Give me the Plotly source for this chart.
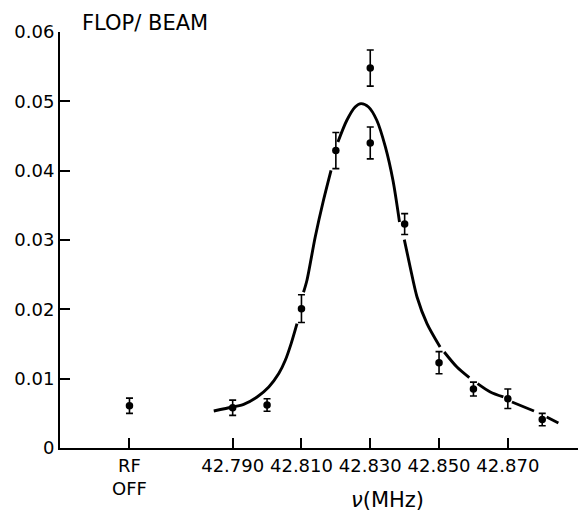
import plotly.graph_objects as go

# ---- data ----
tick_vals = [42.760, 42.790, 42.810, 42.830, 42.850, 42.870]
tick_text = ["RF<br>OFF", "42.790", "42.810", "42.830", "42.850", "42.870"]
y_tick_vals = [0, 0.01, 0.02, 0.03, 0.04, 0.05, 0.06]
y_tick_text = ["0", "0.01", "0.02", "0.03", "0.04", "0.05", "0.06"]

freq = [42.760, 42.790, 42.800, 42.810, 42.820, 42.830, 42.830, 42.840, 42.850, 42.860, 42.870, 42.880]
flop = [0.0061, 0.0058, 0.0062, 0.0201, 0.0429, 0.0548, 0.0440, 0.0323, 0.0123, 0.0085, 0.0071, 0.0041]
flop_err = [0.0011, 0.0011, 0.0009, 0.0020, 0.0026, 0.0026, 0.0023, 0.0015, 0.0016, 0.0010, 0.0014, 0.0009]

fit_freq = [42.7845, 42.7900, 42.7932, 42.7971, 42.8005, 42.8034, 42.8053, 42.8070, 42.8087, None,
            42.8106, 42.8116, 42.8140, 42.8164, 42.8186, None,
            42.8206, 42.8232, 42.8256, 42.8273, 42.8295, 42.8319, 42.8344, 42.8366, 42.8385, None,
            42.8399, 42.8416, 42.8436, 42.8465, 42.8503, None,
            42.8515, 42.8552, 42.8588, None,
            42.8612, 42.8649, 42.8687, None,
            42.8712, 42.8776, None,
            42.8813, 42.8847]
fit_flop = [0.00534, 0.00591, 0.00630, 0.00736, 0.00880, 0.01073, 0.01265, 0.01506, 0.01794, None,
            0.02246, 0.02419, 0.03043, 0.03573, 0.04005, None,
            0.04414, 0.04727, 0.04918, 0.04967, 0.04918, 0.04727, 0.04342, 0.03861, 0.03260, None,
            0.03006, 0.02611, 0.02178, 0.01794, 0.01457, None,
            0.01385, 0.01168, 0.01015, None,
            0.00929, 0.00808, 0.00736, None,
            0.00663, 0.00534, None,
            0.00447, 0.00361]

FONT = "DejaVu Sans"

fig = go.Figure()
fig.add_trace(go.Scatter(
    x=fit_freq, y=fit_flop, mode="lines",
    line=dict(color="black", width=2.9, shape="spline", smoothing=0.8),
    connectgaps=False, hoverinfo="skip", showlegend=False,
))
fig.add_trace(go.Scatter(
    x=freq, y=flop, mode="markers",
    marker=dict(color="black", size=7.5),
    error_y=dict(type="data", array=flop_err, visible=True, color="black", thickness=1.6, width=3.5),
    showlegend=False,
))

fig.update_layout(
    width=578, height=514,
    margin=dict(l=60, r=0, t=32, b=66),
    paper_bgcolor="white", plot_bgcolor="white",
    font=dict(family=FONT, color="black", size=18),
    xaxis=dict(
        range=[42.7398, 42.8904], showgrid=False, zeroline=False,
        showline=True, linecolor="black", linewidth=2,
        tickmode="array", tickvals=tick_vals, ticktext=tick_text,
        ticks="inside", ticklen=10, tickwidth=2, tickcolor="black",
        tickfont=dict(family=FONT, size=18, color="black"),
        automargin=False,
    ),
    yaxis=dict(
        range=[0, 0.06], showgrid=False, zeroline=False,
        showline=True, linecolor="black", linewidth=2,
        tickmode="array", tickvals=y_tick_vals, ticktext=y_tick_text,
        ticks="inside", ticklen=10, tickwidth=2, tickcolor="black",
        tickfont=dict(family=FONT, size=18, color="black"),
        automargin=False,
    ),
    annotations=[
        dict(text="FLOP/ BEAM", xref="paper", yref="paper", x=0.0386, y=1.0224,
             xanchor="left", yanchor="middle", showarrow=False,
             font=dict(family=FONT, size=21, color="black")),
        dict(text="<i>ν</i>(MHz)", xref="paper", yref="paper", x=0.633, y=-0.125,
             xanchor="center", yanchor="middle", showarrow=False,
             font=dict(family=FONT, size=21, color="black")),
    ],
)

fig.write_html("out.html", config={"displayModeBar": False},
               post_script="document.body.style.margin='0px';document.body.style.overflow='hidden';")
